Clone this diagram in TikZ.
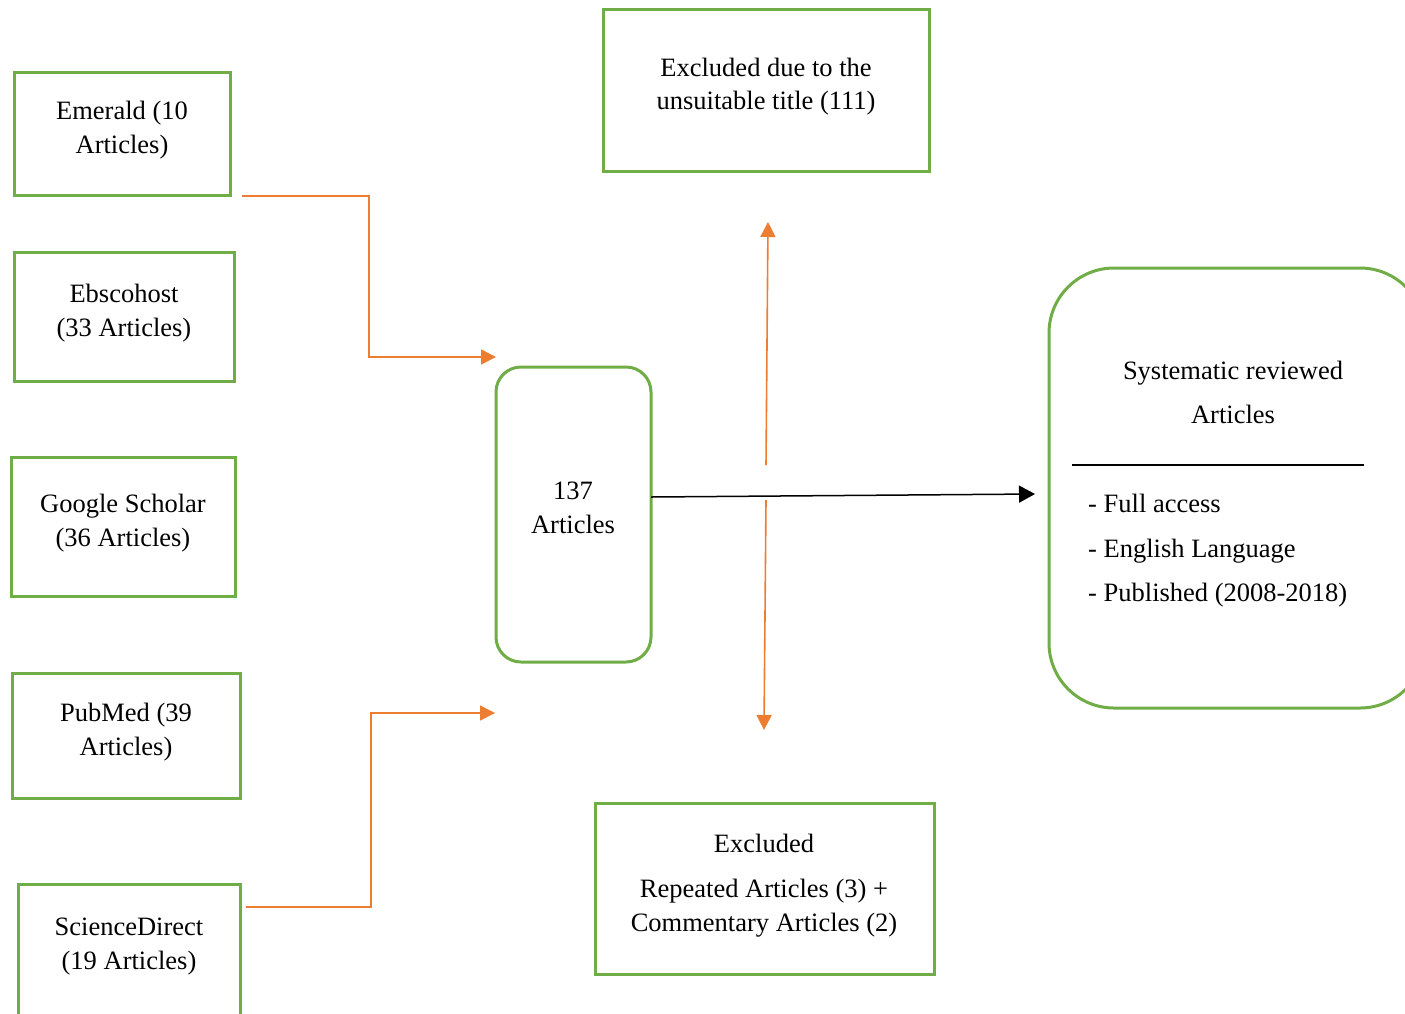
\documentclass[tikz,border=0pt]{standalone}
\usepackage{fontspec}
\setmainfont{Liberation Serif}
\usetikzlibrary{arrows.meta,calc}
\definecolor{boxgreen}{HTML}{70AD47}
\definecolor{arrorange}{HTML}{ED7D31}
\tikzset{
  srcbox/.style={draw=boxgreen,line width=3pt,inner sep=0pt,outer sep=0pt},
  roundbox/.style={srcbox,rounded corners=#1},
  txt/.style={inner sep=0pt,align=center,font=\fontsize{26.5}{34}\selectfont},
  oarrow/.style={draw=arrorange,line width=1.6pt,-{Triangle[length=15pt,width=15pt]}},
  barrow/.style={draw=black,line width=1.5pt,-{Triangle[length=16pt,width=17pt]}},
  rule/.style={draw=black,line width=1.5pt}
}
\begin{document}
\begin{tikzpicture}[x=1pt,y=-1pt]
\clip (0,0) rectangle (1405,1013);
\fill[white] (0,0) rectangle (1405,1013);
% source boxes
\node[srcbox,minimum width=216pt,minimum height=123pt] (em) at (122,133.5) {};
\node[txt] (emt) at (122,130) {Emerald (10\\Articles)};
\node[srcbox,minimum width=220pt,minimum height=129pt] (eb) at (124,316.5) {};
\node[txt] (ebt) at (124,313) {Ebscohost\\(33 Articles)};
\node[srcbox,minimum width=224pt,minimum height=139pt] (gs) at (123,526.5) {};
\node[txt] (gst) at (123,523) {Google Scholar\\(36 Articles)};
\node[srcbox,minimum width=228pt,minimum height=125pt] (pm) at (126,735.5) {};
\node[txt] (pmt) at (126,732) {PubMed (39\\Articles)};
\node[srcbox,minimum width=222pt,minimum height=170pt,anchor=north] (sd) at (129,884) {};
\node[txt] (sdt) at (129,947) {ScienceDirect\\(19 Articles)};
% middle
\node[roundbox=25pt,minimum width=155pt,minimum height=295pt] (a137) at (573.5,514.5) {};
\node[txt] (a137t) at (573,508) {137\\Articles};
% exclusions
\node[srcbox,minimum width=326pt,minimum height=162pt] (ex1) at (766,90) {};
\node[txt,font=\fontsize{26.5}{33}\selectfont] (ex1t) at (766,86.5) {Excluded due to the\\unsuitable title (111)};
\node[srcbox,minimum width=339pt,minimum height=171pt] (ex2) at (764.5,888.5) {};
\node[txt] (ex2t) at (764,885.7) {Excluded\\[11pt]Repeated Articles (3) +\\Commentary Articles (2)};
% result
\node[roundbox=65pt,minimum width=376pt,minimum height=440pt] (sys) at (1237,488) {};
\node[txt,font=\fontsize{26.5}{43.5}\selectfont] (syst) at (1233,392.4) {Systematic reviewed\\Articles};
\coordinate (ruleL) at (1072,465);
\coordinate (ruleR) at (1364,465);
\draw[rule] (ruleL) -- (ruleR);
\node[txt,align=left,anchor=west,font=\fontsize{26.5}{44.5}\selectfont] (crit) at (1088,550.7) {- Full access\\- English Language\\- Published (2008-2018)};
% connectors
\draw[oarrow] ($(em.south east)+(12,1)$) -- ++(127,0) |- ($(a137.north west)+(0,-10)$);
\draw[oarrow] ($(sd.north east)+(6,23)$) -- ++(125,0) |- ($(a137.south west)+(-1,51)$);
\coordinate (upstart) at (766,465);
\coordinate (downstart) at (766,500);
\draw[oarrow] (upstart) -- ($(ex1.south)+(2,51)$);
\draw[oarrow] (downstart) -- ($(ex2.north)+(-0.5,-73)$);
\draw[barrow] ($(a137.east)+(0,-17.5)$) -- ($(sys.west)+(-14,6)$);
\end{tikzpicture}
\end{document}
